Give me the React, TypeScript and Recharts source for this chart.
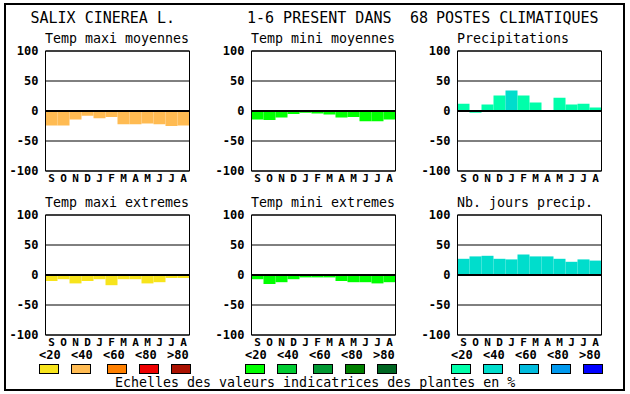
import React from 'react';
import { BarChart, Bar, XAxis, YAxis, CartesianGrid, ReferenceLine, Cell } from 'recharts';

const MONTHS = ['S', 'O', 'N', 'D', 'J', 'F', 'M', 'A', 'M', 'J', 'J', 'A'];
const Y_TICKS = [-100, -50, 0, 50, 100];

const TMAX_MOY = [-24, -24, -14, -8, -12, -10, -22, -22, -21, -22, -25, -24];
const TMIN_MOY = [-14, -15, -11, -5, -3, -4, -6, -11, -10, -17, -17, -14];
const PRECIP = [12, -3, 11, 26, 34, 26, 14, 0, 22, 11, 12, 6];
const TMAX_EXT = [-10, -7, -14, -10, -7, -17, -7, -7, -14, -12, -5, -5];
const TMIN_EXT = [-7, -15, -12, -7, -4, -4, -4, -10, -12, -12, -14, -12];
const NB_JOURS = [27, 31, 32, 27, 26, 34, 31, 31, 27, 22, 26, 24];

// class of indicator value: 0 "<20", 1 "<40", 2 "<60", 3 "<80", 4 ">80"
const TMAX_MOY_CLASS = [1, 1, 1, 1, 1, 1, 1, 1, 1, 1, 1, 1];
const TMIN_MOY_CLASS = [0, 0, 0, 0, 0, 0, 0, 0, 0, 0, 0, 0];
const PRECIP_CLASS = [0, 0, 0, 0, 1, 0, 0, 0, 0, 0, 0, 0];
const TMAX_EXT_CLASS = [0, 0, 0, 0, 0, 0, 0, 0, 0, 0, 0, 0];
const TMIN_EXT_CLASS = [0, 0, 0, 0, 0, 0, 0, 0, 0, 0, 0, 0];
const NB_JOURS_CLASS = [1, 1, 1, 1, 1, 1, 1, 1, 1, 1, 1, 1];

const WARM = ['#F7E41C', '#FFBB52', '#FF8000', '#EE0000', '#AA1100'];
const GREEN = ['#00FF00', '#00CC33', '#009933', '#008000', '#006622'];
const BLUE = ['#00FFAA', '#00DDCC', '#00BBDD', '#0099EE', '#0000FF'];
const SCALE_LABELS = ['<20', '<40', '<60', '<80', '>80'];

const TITLE_LEFT = 'SALIX CINEREA L.';
const TITLE_MID = '1-6 PRESENT DANS';
const TITLE_N = '68';
const TITLE_RIGHT = 'POSTES CLIMATIQUES';
const FOOTER = 'Echelles des valeurs indicatrices des plantes en %';

const MONO = '"DejaVu Sans Mono", "Liberation Mono", monospace';

const COL_LEFT = [45, 251, 457];
const ROW_TOP = [50, 214];
const LABEL_OFF = [-6, 26, 58, 90, 122];
const BOX_OFF = [-6, 26, 62, 94, 126];

type PanelProps = {
  title: string;
  values: number[];
  classes: number[];
  palette: string[];
  left: number;
  top: number;
};

const tickStyle = { fill: '#000', fontSize: 12, fontFamily: MONO, fontWeight: 'bold' as const };
const monthStyle = { fill: '#000', fontSize: 11, fontFamily: MONO, fontWeight: 'bold' as const };

function Panel({ title, values, classes, palette, left, top }: PanelProps) {
  const data = values.map((v, i) => ({ i, v }));
  return (
    <>
      <div
        style={{
          position: 'absolute',
          left,
          top: top - 18.4,
          fontFamily: MONO,
          fontSize: 13.3,
          lineHeight: 1,
          whiteSpace: 'pre',
          color: '#000',
        }}
      >
        {title}
      </div>
      <div style={{ position: 'absolute', left: left - 40, top: top - 7.5 }}>
        <BarChart
          width={186}
          height={149}
          data={data}
          barCategoryGap={0}
          barGap={0}
          margin={{ top: 8, right: 0.5, bottom: 1, left: 0.5 }}
        >
          <CartesianGrid horizontal vertical={false} stroke="#000" strokeDasharray="" />
          <XAxis
            dataKey="i"
            type="category"
            interval={0}
            height={20}
            tickLine={false}
            tickSize={1}
            tickMargin={2.5}
            axisLine={{ stroke: '#000' }}
            tick={monthStyle}
            tickFormatter={(v: any, idx: number) => MONTHS[idx]}
          />
          <YAxis
            type="number"
            domain={[-100, 100]}
            ticks={Y_TICKS}
            interval={0}
            width={40}
            tickLine={false}
            tickSize={5}
            tickMargin={2}
            axisLine={{ stroke: '#000' }}
            tick={tickStyle}
            allowDataOverflow
          />
          <YAxis
            yAxisId="right"
            orientation="right"
            type="number"
            domain={[-100, 100]}
            width={1}
            tick={false}
            tickLine={false}
            axisLine={{ stroke: '#000' }}
            allowDataOverflow
          />
          <Bar dataKey="v" isAnimationActive={false}>
            {data.map((d, i) => (
              <Cell key={i} fill={palette[classes[i]]} />
            ))}
          </Bar>
          <ReferenceLine y={0} stroke="#000" strokeWidth={2} />
          <ReferenceLine y={100} stroke="#000" strokeWidth={1} />
        </BarChart>
      </div>
    </>
  );
}

function ScaleLegend({ palette, left }: { palette: string[]; left: number }) {
  return (
    <>
      {SCALE_LABELS.map((lab, k) => (
        <div
          key={'l' + k}
          style={{
            position: 'absolute',
            left: left + LABEL_OFF[k],
            top: 349,
            fontFamily: MONO,
            fontSize: 12,
            fontWeight: 'bold',
            lineHeight: 1,
            whiteSpace: 'pre',
            color: '#000',
          }}
        >
          {lab}
        </div>
      ))}
      {palette.map((c, k) => (
        <div
          key={'b' + k}
          style={{
            position: 'absolute',
            left: left + BOX_OFF[k],
            top: 364,
            width: 20,
            height: 10,
            boxSizing: 'border-box',
            border: '1px solid #000',
            background: c,
          }}
        />
      ))}
    </>
  );
}

const titleStyle: React.CSSProperties = {
  position: 'absolute',
  top: 10.8,
  fontFamily: MONO,
  fontSize: 15,
  lineHeight: 1,
  whiteSpace: 'pre',
  color: '#000',
};

export default function App() {
  return (
    <div
      style={{
        position: 'absolute',
        left: 0,
        top: 0,
        width: 630,
        height: 394,
        background: '#fff',
        overflow: 'hidden',
      }}
    >
      <div
        style={{
          position: 'absolute',
          left: 4,
          top: 3,
          width: 621,
          height: 388,
          boxSizing: 'border-box',
          border: '2px solid #000',
        }}
      />
      <div style={{ ...titleStyle, left: 30.5 }}>{TITLE_LEFT}</div>
      <div style={{ ...titleStyle, left: 247 }}>{TITLE_MID}</div>
      <div style={{ ...titleStyle, left: 410 }}>{TITLE_N}</div>
      <div style={{ ...titleStyle, left: 436 }}>{TITLE_RIGHT}</div>

      <Panel title="Temp maxi moyennes" values={TMAX_MOY} classes={TMAX_MOY_CLASS} palette={WARM} left={COL_LEFT[0]} top={ROW_TOP[0]} />
      <Panel title="Temp mini moyennes" values={TMIN_MOY} classes={TMIN_MOY_CLASS} palette={GREEN} left={COL_LEFT[1]} top={ROW_TOP[0]} />
      <Panel title="Precipitations" values={PRECIP} classes={PRECIP_CLASS} palette={BLUE} left={COL_LEFT[2]} top={ROW_TOP[0]} />
      <Panel title="Temp maxi extremes" values={TMAX_EXT} classes={TMAX_EXT_CLASS} palette={WARM} left={COL_LEFT[0]} top={ROW_TOP[1]} />
      <Panel title="Temp mini extremes" values={TMIN_EXT} classes={TMIN_EXT_CLASS} palette={GREEN} left={COL_LEFT[1]} top={ROW_TOP[1]} />
      <Panel title="Nb. jours precip." values={NB_JOURS} classes={NB_JOURS_CLASS} palette={BLUE} left={COL_LEFT[2]} top={ROW_TOP[1]} />

      <ScaleLegend palette={WARM} left={COL_LEFT[0]} />
      <ScaleLegend palette={GREEN} left={COL_LEFT[1]} />
      <ScaleLegend palette={BLUE} left={COL_LEFT[2]} />

      <div
        style={{
          position: 'absolute',
          left: 115,
          top: 375.6,
          fontFamily: MONO,
          fontSize: 13.3,
          lineHeight: 1,
          whiteSpace: 'pre',
          color: '#000',
        }}
      >
        {FOOTER}
      </div>
    </div>
  );
}
